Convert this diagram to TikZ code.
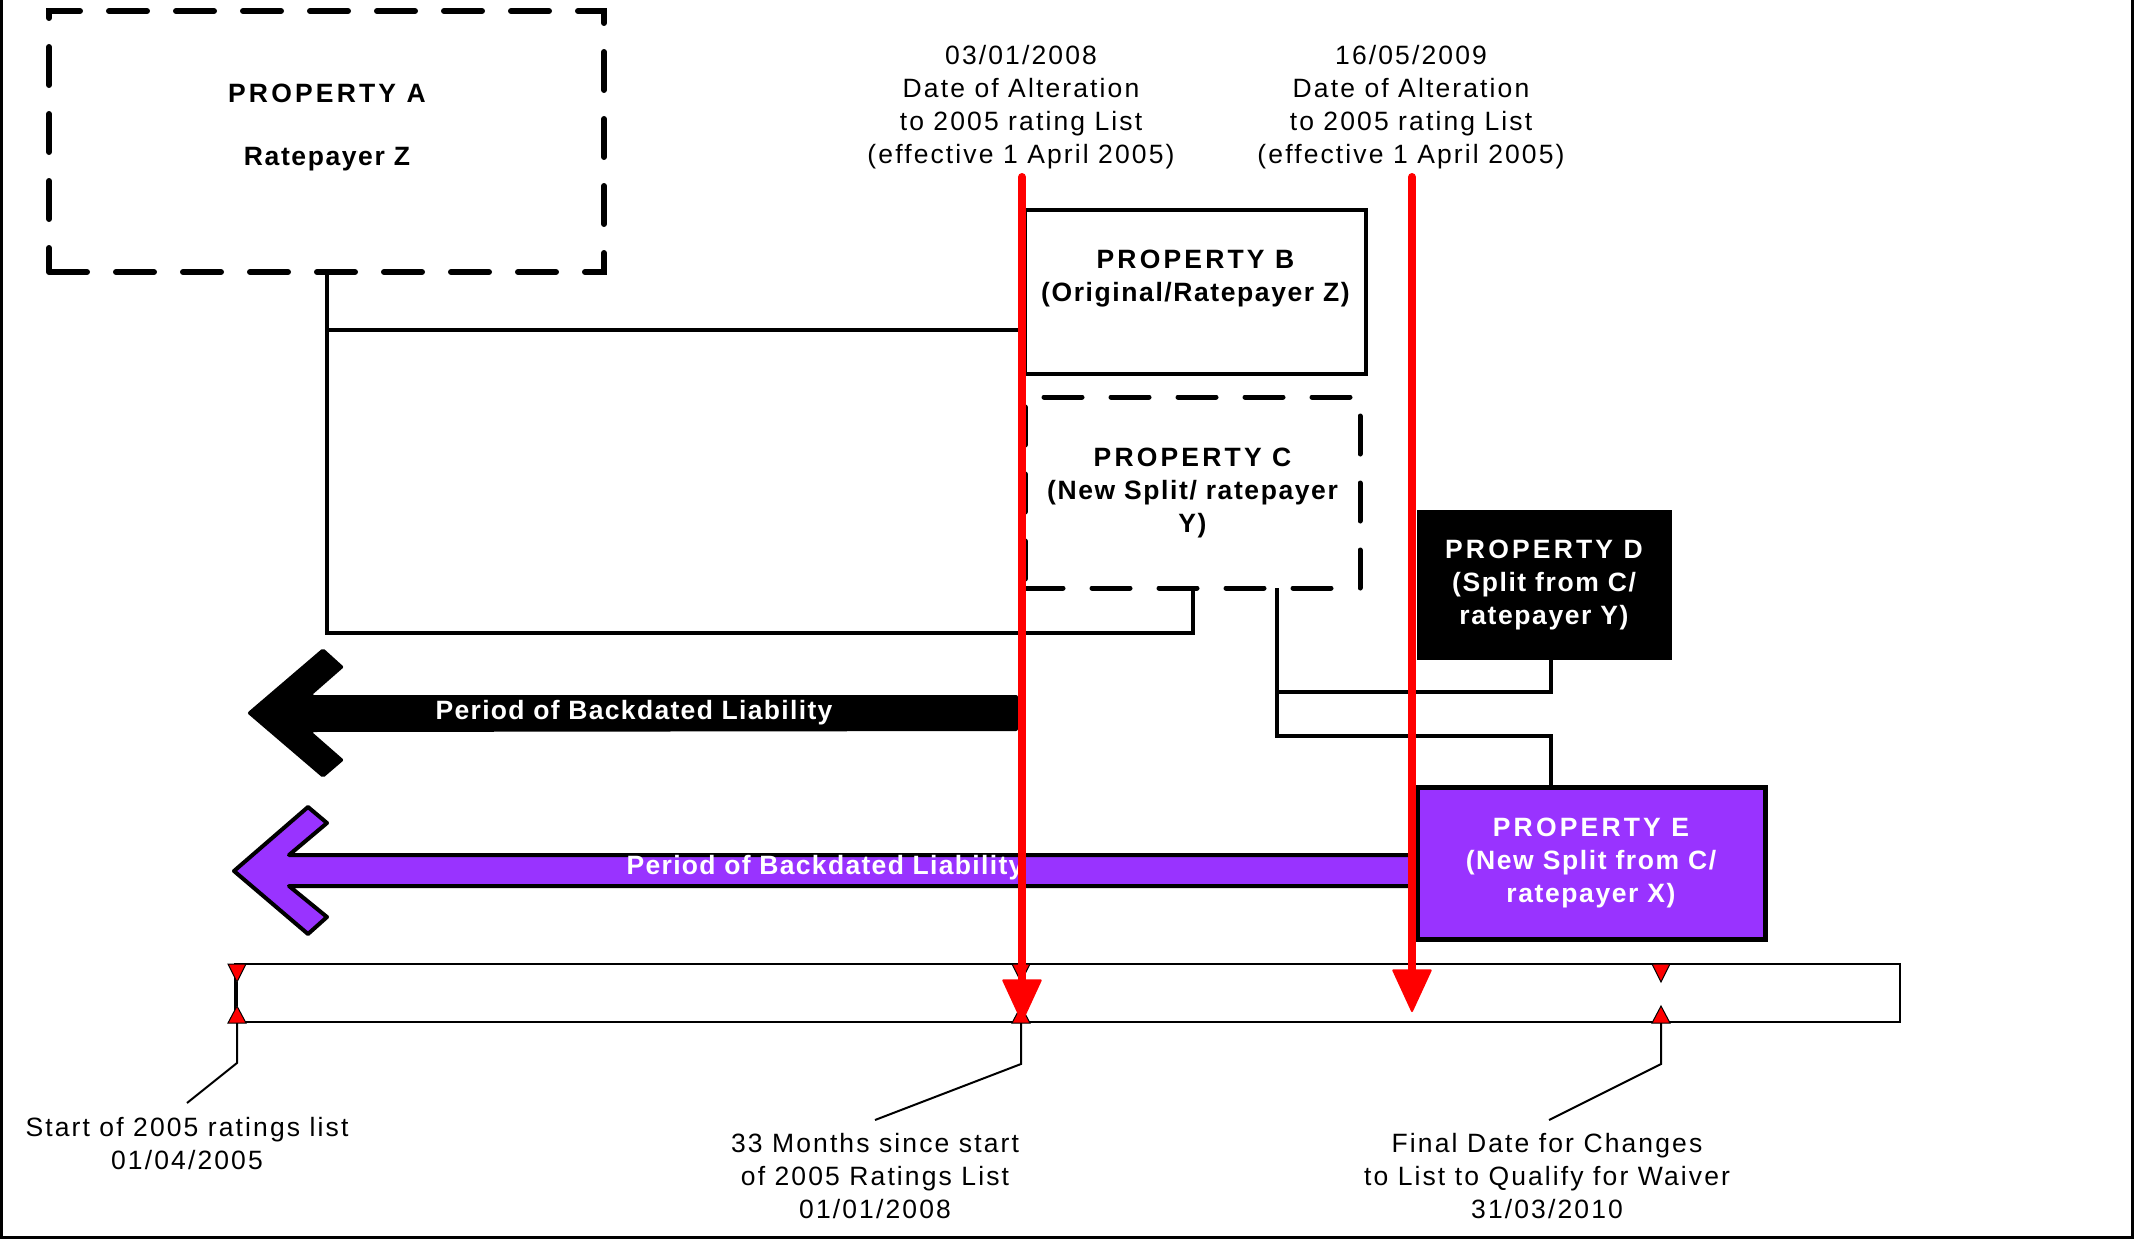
\documentclass[tikz,border=0pt]{standalone}
\usepackage{fontspec}
\setmainfont{Liberation Sans}[LetterSpace=8]
\usetikzlibrary{arrows.meta,calc}
\definecolor{purp}{HTML}{9933FF}
\newcommand{\wideprop}[1]{{\addfontfeature{LetterSpace=12}#1}}
\begin{document}
\begin{tikzpicture}[x=1pt,y=-1pt,
  txt/.style={font=\fontsize{26.5}{33}\selectfont, align=center, inner sep=0pt},
  btxt/.style={font=\fontsize{26.5}{33}\selectfont\bfseries\addfontfeature{LetterSpace=6}, align=center, inner sep=0pt},
  atxt/.style={font=\fontsize{26.5}{33}\selectfont\bfseries\addfontfeature{LetterSpace=5}, text=white, inner sep=0pt},
  dbox/.style={draw, line width=6pt, dash pattern=on 38pt off 29pt, line cap=round, inner sep=0pt},
  sbox/.style={draw, line width=4pt, inner sep=0pt},
  conn/.style={line width=4pt},
  thinl/.style={line width=2pt},
  tri/.style={fill=red, draw=black, line width=1pt, line join=miter},
  redl/.style={draw=red, line width=8pt, line cap=round, -{Triangle[length=44pt,width=40pt,round,line width=2pt]}}
]
\useasboundingbox (0,0) rectangle (2134,1239);
% frame
\draw[line width=3pt] (1.5,0) -- (1.5,1237.5) -- (2132.5,1237.5) -- (2132.5,0);

% boxes
\node[dbox, minimum width=555pt, minimum height=261pt] (A) at (326.5,141.5) {};
\node[btxt] (tA1) at (327,93) {\wideprop{PROPERTY A}};
\node[btxt] (tA2) at (327,159) {Ratepayer Z};

\node[sbox, minimum width=341pt, minimum height=164pt] (B) at (1195.5,292) {};
\node[btxt] (tB) at (1195.5,279) {\wideprop{PROPERTY B}\\(Original/Ratepayer Z)};

\node[dbox, line width=5pt, minimum width=335pt, minimum height=191pt, btxt] (C) at (1192.5,492.5) {\wideprop{PROPERTY C}\\(New Split/ ratepayer\\Y)};

\node[btxt, draw=black, fill=black, text=white, line width=1pt, minimum width=254pt, minimum height=149pt] (D) at (1544,584.5) {\wideprop{PROPERTY D}\\(Split from C/\\ratepayer Y)};

\node[btxt, draw=black, fill=purp, text=white, line width=5pt, minimum width=348pt, minimum height=152pt] (E) at (1591,863) {\wideprop{PROPERTY E}\\(New Split from C/\\ratepayer X)};

% connectors
\coordinate (jB) at (326.5,330);
\coordinate (jA) at (1192.5,633);
\coordinate (cS) at (1277,588);
\coordinate (jD) at (1277,692);
\coordinate (jE) at (1277,736);
\coordinate (dS) at (1551,659);
\coordinate (eN) at (1551,787);
\draw[conn] (A.south) |- (jA) -- (C.south);
\draw[conn] (jB) -- (jB -| B.west);
\draw[conn] (cS) -- (jE) -| (eN);
\draw[conn] (jD) -| (dS);

% block arrows
\fill[black, rounded corners=2pt] (247,713) -- (323,648) -- (344,667) -- (312,695) -- (1018,695) -- (1018,731) -- (312,732) -- (344,760) -- (323,778) -- cycle;
\node[atxt] (a1) at (634,713) {Period of Backdated Liability};
\filldraw[fill=purp, draw=black, line width=4pt, line join=round] (234,871) -- (308,807) -- (327,823) -- (289,855) -- (1417,855) -- (1417,886) -- (289,886) -- (327,917) -- (308,934) -- cycle;
\node[atxt] (a2) at (825,868) {Period of Backdated Liability};

% timeline
\draw[thinl] (235,964) rectangle (1900,1022);
\draw[thinl] (237,982) -- (237,1006);
\foreach \x in {237,1021,1661}{
  \filldraw[tri] (\x-9,964) -- (\x+9,964) -- (\x,982) -- cycle;
  \filldraw[tri] (\x-9,1023) -- (\x+9,1023) -- (\x,1006) -- cycle;
}
\coordinate (k1) at (237,1023);
\coordinate (k2) at (1021,1023);
\coordinate (k3) at (1661,1023);
\node[txt] (l1) at (187,1144) {Start of 2005 ratings list\\01/04/2005};
\node[txt] (l2) at (875,1176) {33 Months since start\\of 2005 Ratings List\\01/01/2008};
\node[txt] (l3) at (1547,1176) {Final Date for Changes\\to List to Qualify for Waiver\\31/03/2010};
\draw[thinl] (k1) -- ++(0,40) -- (187,1103);
\draw[thinl] (k2) -- ++(0,41) -- (875,1120);
\draw[thinl] (k3) -- ++(0,41) -- (1549,1120);

% red date lines
\node[txt] (r1) at (1021,107) {03/01/2008\\Date of Alteration\\to 2005 rating List\\(effective 1 April 2005)};
\node[txt] (r2) at (1411,107) {16/05/2009\\Date of Alteration\\to 2005 rating List\\(effective 1 April 2005)};
\coordinate (r1t) at (1022,177);
\coordinate (r1e) at (1022,1022);
\coordinate (r2t) at (1412,177);
\coordinate (r2e) at (1412,1012);
\draw[redl] (r1t) -- (r1e);
\draw[redl] (r2t) -- (r2e);
\end{tikzpicture}
\end{document}
